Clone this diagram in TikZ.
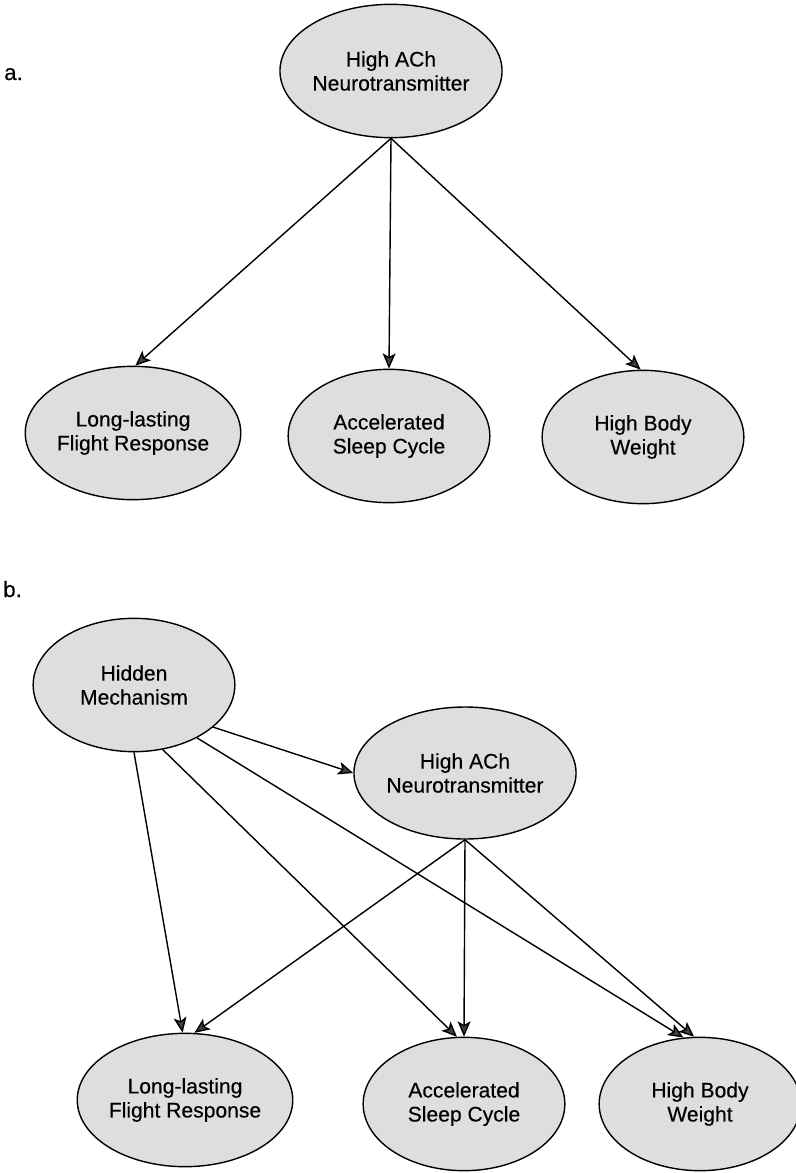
\documentclass[tikz,border=0pt]{standalone}
\usepackage{fontspec}
\setmainfont{Liberation Sans}[FakeBold=0.3]
\usetikzlibrary{shapes.geometric,arrows.meta}
\tikzset{
  nd/.style={ellipse, draw=black, line width=1.2pt, fill=black!13, inner sep=0pt,
    minimum width=6.05cm, minimum height=4.0cm, align=center,
    font=\fontsize{18}{20.5}\selectfont},
  arr/.style={line width=1.2pt, -{Stealth[length=13pt, width=11pt, inset=3pt, fill=black!75]}},
  lbl/.style={anchor=base west, inner sep=0pt, font=\fontsize{19}{22}\selectfont}
}
\begin{document}
\begin{tikzpicture}[x=0.03cm, y=-0.03cm]
\useasboundingbox (0,0) rectangle (796,1173);
% part a
\node[lbl] (la) at (4,80) {a.};
\node[nd] (atop) at (391,71) {High ACh\\Neurotransmitter};
\node[nd] (all) at (133,433) {Long-lasting\\Flight Response};
\node[nd] (aacc) at (389,436) {Accelerated\\Sleep Cycle};
\node[nd] (ahbw) at (643,437) {High Body\\Weight};
\draw[arr] (atop.south) -- (all.88);
\draw[arr] (atop.south) -- (aacc.north);
\draw[arr] (atop.south) -- (ahbw.92);
% part b
\node[lbl] (lb) at (3,597) {b.};
\node[nd] (hm) at (134,685) {Hidden\\Mechanism};
\node[nd, minimum height=3.96cm] (bach) at (465,773) {High ACh\\Neurotransmitter};
\node[nd] (bll) at (185,1100) {Long-lasting\\Flight Response};
\node[nd] (bacc) at (464,1104) {Accelerated\\Sleep Cycle};
\node[nd] (bhbw) at (700,1104) {High Body\\Weight};
\draw[arr] (hm.-28) -- (bach.west);
\draw[arr] (hm.south) -- (bll.92);
\draw[arr] (hm.-66) -- (bacc.96);
\draw[arr] (hm.-40) -- (bhbw.104);
\draw[arr] (bach.south) -- (bll.82);
\draw[arr] (bach.south) -- (bacc.north);
\draw[arr] (bach.south) -- (bhbw.95);
\end{tikzpicture}
\end{document}
